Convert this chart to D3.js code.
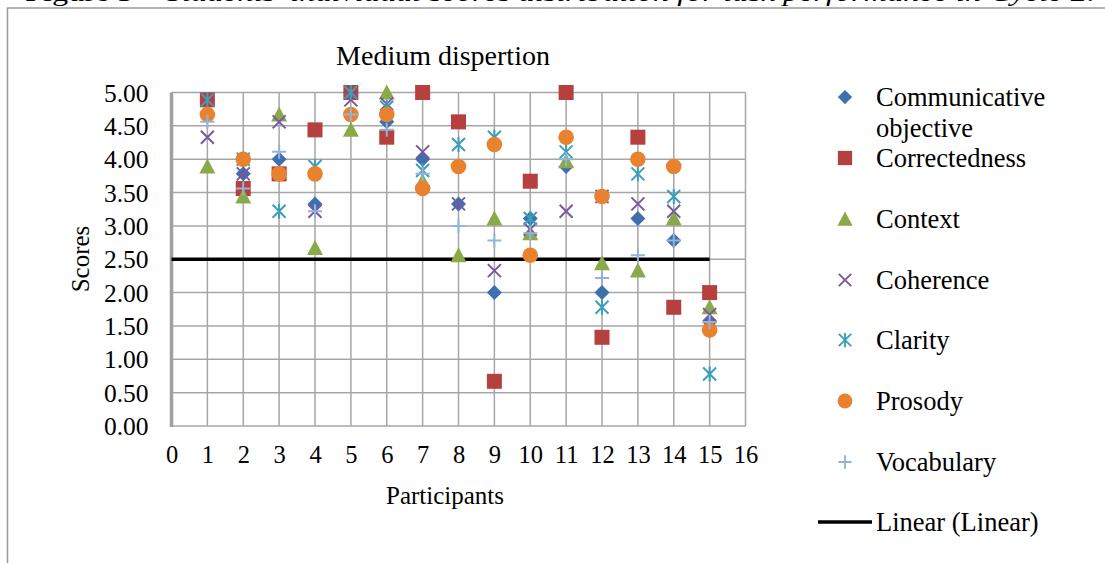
<!DOCTYPE html>
<html><head><meta charset="utf-8">
<script src="https://cdn.jsdelivr.net/npm/d3@7"></script>
<style>
html,body{margin:0;padding:0;background:#fff;}
svg{display:block;font-family:"Liberation Serif","Times New Roman",serif;}
</style></head>
<body><svg id="c" width="1105" height="563"></svg>
<script>
const participants = [1,2,3,4,5,6,7,8,9,10,11,12,13,14,15];
const communicative = [4.89,3.78,4.00,3.33,5.00,4.56,4.00,3.33,2.00,3.11,3.89,2.00,3.11,2.78,1.56];
const correctedness = [4.89,3.56,3.78,4.44,5.00,4.33,5.00,4.56,0.67,3.67,5.00,1.33,4.33,1.78,2.00];
const context       = [3.89,3.44,4.67,2.67,4.44,5.00,3.67,2.56,3.11,2.89,3.97,2.44,2.33,3.11,1.78];
const coherence     = [4.33,3.78,4.56,3.22,4.89,4.83,4.11,3.33,2.33,2.95,3.22,3.44,3.33,3.22,1.67];
const clarity       = [4.89,4.00,3.22,3.89,5.00,4.78,3.83,4.22,4.33,3.11,4.11,1.78,3.78,3.44,0.78];
const prosody       = [4.67,4.00,3.78,3.78,4.67,4.67,3.56,3.89,4.22,2.56,4.33,3.44,4.00,3.89,1.44];
const vocabulary    = [4.56,3.56,4.11,3.22,4.67,4.44,3.78,3.00,2.78,2.89,4.00,2.22,2.56,2.78,1.56];
const linearX = [0, 15];
const linearY = [2.5, 2.5];
const xTicks = [0,1,2,3,4,5,6,7,8,9,10,11,12,13,14,15,16];
const yTicks = [0,0.5,1,1.5,2,2.5,3,3.5,4,4.5,5];
const seriesNames = ["Communicative objective","Correctedness","Context","Coherence","Clarity","Prosody","Vocabulary"];

const series = [
  {name:seriesNames[0], values:communicative, shape:"diamond", color:"#3F6FAE"},
  {name:seriesNames[1], values:correctedness, shape:"square", color:"#B5403D"},
  {name:seriesNames[2], values:context, shape:"triangle", color:"#8AAA4A"},
  {name:seriesNames[3], values:coherence, shape:"x", color:"#7A58A0"},
  {name:seriesNames[4], values:clarity, shape:"star", color:"#3C9FBA"},
  {name:seriesNames[5], values:prosody, shape:"circle", color:"#E8822F"},
  {name:seriesNames[6], values:vocabulary, shape:"plus", color:"#95B3DA"}
];

const svg = d3.select("#c");
const x = d3.scaleLinear().domain([0,16]).range([171.5,745.5]);
const y = d3.scaleLinear().domain([0,5]).range([426,92.5]);

// outer frame
svg.append("path").attr("d","M7.5,563 L7.5,8 L1105,8").attr("fill","none").attr("stroke","#9a9a9a").attr("stroke-width",1.5);

// caption (cut off at top, as in the source)
const cap = svg.append("text").attr("x",25).attr("y",1).attr("font-size",26)
  .attr("textLength",1070).attr("lengthAdjust","spacingAndGlyphs");
cap.append("tspan").text("Figure 3 – ");
cap.append("tspan").attr("font-style","italic").text("Students’ individual scores distribution for task performance in Cycle 2.");

// grid
const g = svg.append("g");
g.selectAll(".gx").data(xTicks.slice(1)).join("line")
  .attr("x1",d=>x(d)).attr("x2",d=>x(d)).attr("y1",y(5)).attr("y2",y(0))
  .attr("stroke","#a6a6a6").attr("stroke-width",1.5);
g.selectAll(".gy").data(yTicks).join("line")
  .attr("x1",x(0)).attr("x2",x(16)).attr("y1",d=>y(d)).attr("y2",d=>y(d))
  .attr("stroke","#a6a6a6").attr("stroke-width",1.5);
// left axis line
g.append("line").attr("x1",x(0)).attr("x2",x(0)).attr("y1",y(5)).attr("y2",y(0)+1)
  .attr("stroke","#a0a0a0").attr("stroke-width",3.5);

// axes labels
const yAxis = d3.axisLeft(y).tickValues(yTicks).tickFormat(d3.format(".2f")).tickSize(0).tickPadding(23);
const ya = svg.append("g").attr("transform",`translate(${x(0)},0)`).call(yAxis);
ya.attr("font-family",null).attr("font-size",null);
ya.select(".domain").remove();
ya.selectAll("text").attr("font-size",25.5).attr("fill","#000").attr("dy","0.34em");

const xAxis = d3.axisBottom(x).tickValues(xTicks).tickFormat(d3.format("d")).tickSize(0).tickPadding(20);
const xa = svg.append("g").attr("transform",`translate(0,${y(0)})`).call(xAxis);
xa.attr("font-family",null).attr("font-size",null);
xa.select(".domain").remove();
xa.selectAll("text").attr("font-size",24.5).attr("fill","#000");

svg.append("text").attr("x",443).attr("y",65).attr("text-anchor","middle").attr("font-size",28).text("Medium dispertion");
svg.append("text").attr("x",445).attr("y",504).attr("text-anchor","middle").attr("font-size",25).text("Participants");
svg.append("text").attr("transform","translate(89,259) rotate(-90)").attr("text-anchor","middle").attr("font-size",25).text("Scores");

// trend line
svg.append("line").attr("x1",x(linearX[0])).attr("x2",x(linearX[1])).attr("y1",y(linearY[0])).attr("y2",y(linearY[1]))
  .attr("stroke","#000").attr("stroke-width",3.5);

function marker(sel, shape, color){
  const s = 7.5;
  if(shape==="diamond") sel.append("path").attr("d",`M0,${-s} L${s},0 L0,${s} L${-s},0Z`).attr("fill",color);
  else if(shape==="square") sel.append("rect").attr("x",-7.5).attr("y",-7.5).attr("width",15).attr("height",15).attr("fill",color);
  else if(shape==="triangle") sel.append("path").attr("d","M0,-8 L8,7 L-8,7Z").attr("fill",color);
  else if(shape==="circle") sel.append("circle").attr("r",7.8).attr("fill",color);
  else if(shape==="x") sel.append("path").attr("d","M-6.5,-6.5 L6.5,6.5 M-6.5,6.5 L6.5,-6.5").attr("stroke",color).attr("stroke-width",2).attr("fill","none");
  else if(shape==="star") sel.append("path").attr("d","M-6.5,-6.5 L6.5,6.5 M-6.5,6.5 L6.5,-6.5 M0,-7.5 L0,7.5").attr("stroke",color).attr("stroke-width",2).attr("fill","none");
  else if(shape==="plus") sel.append("path").attr("d","M-7,0 L7,0 M0,-7 L0,7").attr("stroke",color).attr("stroke-width",2).attr("fill","none");
}

series.forEach(s=>{
  const grp = svg.append("g");
  grp.selectAll("g").data(participants.map((p,i)=>({p, v:s.values[i]}))).join("g")
    .attr("transform",d=>`translate(${x(d.p)},${y(d.v)})`)
    .each(function(){ marker(d3.select(this), s.shape, s.color); });
});

// legend
const legY = [97,158,219,280,340,401,462];
series.forEach((s,i)=>{
  const lg = svg.append("g").attr("transform",`translate(845,${legY[i]})`);
  const m = lg.append("g").attr("transform","scale(0.95)");
  marker(m, s.shape, s.color);
  if(i===0){
    lg.append("text").attr("x",31).attr("y",9).attr("font-size",26.5).text("Communicative");
    lg.append("text").attr("x",31).attr("y",40).attr("font-size",26.5).text("objective");
  } else {
    lg.append("text").attr("x",31).attr("y",9).attr("font-size",26.5).text(s.name);
  }
});
svg.append("line").attr("x1",818).attr("x2",872).attr("y1",522).attr("y2",522).attr("stroke","#000").attr("stroke-width",3.5);
svg.append("text").attr("x",876).attr("y",531).attr("font-size",26.5).text("Linear (Linear)");
</script></body></html>
